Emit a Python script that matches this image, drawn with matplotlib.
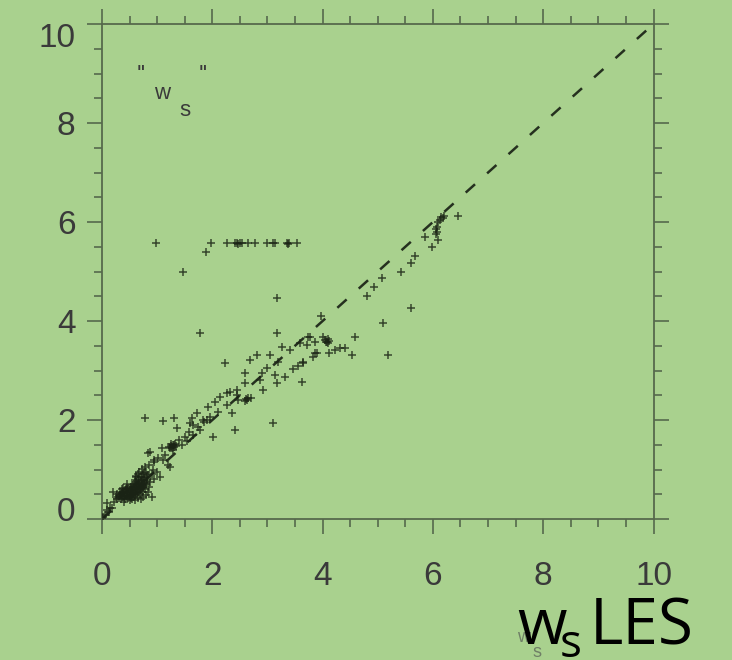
import numpy as np
import matplotlib
matplotlib.use("Agg")
import matplotlib.pyplot as plt
from matplotlib.transforms import ScaledTranslation

BG = "#a9d18e"
AXC = "#56694c"
TXT = "#3a3a3a"

# plateau of parameterised values near 5.6
plateau_les = [0.98, 1.47, 1.88, 1.97, 2.26, 2.42, 2.45, 2.47, 2.50, 2.54,
               2.64, 2.77, 2.99, 3.10, 3.13, 3.35, 3.38, 3.40, 3.53]
plateau_par = [5.58, 5.00, 5.40, 5.58, 5.58, 5.57, 5.58, 5.56, 5.58, 5.58,
               5.58, 5.58, 5.58, 5.57, 5.58, 5.58, 5.56, 5.58, 5.58]

# upper part of the cloud (ws > 3)
upper_les = [3.17, 1.78, 3.17, 3.98, 6.45, 6.18, 6.12, 6.10, 6.07, 6.06,
             6.07, 6.05, 5.85, 6.09, 5.98, 5.67, 5.60, 5.43, 5.07, 4.93,
             4.80, 5.60, 5.09, 5.18, 4.58, 4.53, 4.08, 4.00, 4.05, 4.10,
             4.12, 4.22, 4.31, 4.11, 3.71, 3.86, 3.77, 3.86, 3.82, 3.64,
             3.55, 3.46, 3.62, 4.40, 3.73, 3.59, 3.26, 3.41, 3.89, 3.04,
             2.81, 3.19, 2.68, 2.23, 3.64, 2.99, 2.59, 2.90, 3.13, 3.32,
             2.86, 3.17, 2.59, 3.10, 4.06, 4.09, 6.14, 6.20]
upper_par = [4.46, 3.76, 3.76, 4.11, 6.13, 6.09, 6.05, 6.00, 5.90, 5.85,
             5.79, 5.75, 5.69, 5.63, 5.49, 5.32, 5.18, 5.00, 4.86, 4.68,
             4.50, 4.27, 3.95, 3.31, 3.67, 3.31, 3.57, 3.67, 3.62, 3.55,
             3.60, 3.41, 3.45, 3.35, 3.51, 3.57, 3.67, 3.35, 3.27, 3.17,
             3.10, 3.04, 2.76, 3.45, 3.67, 3.55, 3.47, 3.41, 3.35, 3.31,
             3.31, 3.17, 3.21, 3.15, 3.15, 3.06, 2.96, 2.94, 2.90, 2.86,
             2.80, 2.74, 2.74, 1.94, 3.58, 3.64, 6.10, 6.12]

# middle part (ws between 1 and 3)
mid_les = [2.45, 2.92, 2.32, 2.63, 2.62, 2.65, 2.60, 2.70, 2.47, 2.14,
           2.05, 2.26, 1.92, 1.72, 1.96, 1.83, 1.63, 2.36, 2.41, 2.01,
           1.78, 1.65, 0.78, 1.11, 1.30, 1.36, 1.58, 1.59, 1.09, 0.87,
           1.27, 1.25, 1.30, 1.33, 1.35, 1.22, 1.28, 1.01, 1.23, 1.20,
           1.05, 0.83, 1.40, 1.50, 1.15, 0.95, 1.10, 2.10, 2.26, 2.45,
           1.45, 1.55, 1.65, 1.75, 1.85, 1.90, 1.29, 1.31, 1.26, 1.24]
mid_par = [2.60, 2.60, 2.56, 2.40, 2.42, 2.45, 2.38, 2.44, 2.40, 2.46,
           2.36, 2.30, 2.26, 2.14, 2.06, 2.00, 2.04, 2.14, 1.79, 1.65,
           1.79, 1.90, 2.04, 1.98, 2.04, 1.83, 1.75, 1.93, 1.43, 1.35,
           1.43, 1.47, 1.50, 1.52, 1.48, 1.45, 1.40, 1.23, 1.05, 1.10,
           0.85, 1.33, 1.60, 1.65, 1.30, 1.15, 1.20, 2.16, 2.54, 2.50,
           1.50, 1.58, 1.70, 1.85, 1.95, 2.00, 1.49, 1.46, 1.51, 1.44]

# dense cluster of small values
low_les = [0.02, 0.05, 0.09, 0.14, 0.18, 0.09, 0.20, 0.22, 0.25, 0.28,
           0.30, 0.32, 0.33, 0.35, 0.36, 0.38, 0.40, 0.41, 0.42, 0.43,
           0.45, 0.45, 0.47, 0.48, 0.50, 0.50, 0.52, 0.52, 0.54, 0.55,
           0.55, 0.57, 0.58, 0.58, 0.60, 0.60, 0.62, 0.62, 0.63, 0.64,
           0.65, 0.66, 0.67, 0.68, 0.69, 0.70, 0.70, 0.72, 0.72, 0.73,
           0.74, 0.75, 0.76, 0.77, 0.78, 0.80, 0.80, 0.82, 0.83, 0.84,
           0.85, 0.87, 0.90, 0.90, 0.92, 0.65, 0.75, 0.80, 0.70, 0.60,
           0.50, 0.40, 0.38, 0.55, 0.45, 0.62, 0.68, 0.78, 0.85, 0.95,
           1.00, 0.95, 0.72,
           0.34, 0.37, 0.39, 0.42, 0.44, 0.46, 0.49, 0.51, 0.53, 0.56,
           0.57, 0.59, 0.61, 0.63, 0.64, 0.66, 0.67, 0.69, 0.71, 0.73,
           0.74, 0.76, 0.77, 0.79, 0.81, 0.59, 0.62, 0.66, 0.70, 0.73,
           0.77, 0.48, 0.52, 0.56, 0.44, 0.40, 0.36, 0.31, 0.27, 0.12]
low_par = [0.04, 0.08, 0.18, 0.22, 0.22, 0.32, 0.54, 0.35, 0.45, 0.50,
           0.42, 0.55, 0.48, 0.40, 0.60, 0.45, 0.52, 0.58, 0.40, 0.47,
           0.55, 0.62, 0.42, 0.50, 0.58, 0.45, 0.52, 0.65, 0.40, 0.48,
           0.56, 0.60, 0.70, 0.45, 0.52, 0.64, 0.75, 0.48, 0.58, 0.68,
           0.55, 0.80, 0.62, 0.72, 0.50, 0.60, 0.85, 0.68, 0.78, 0.55,
           0.90, 0.65, 0.72, 0.82, 0.60, 0.70, 0.95, 0.78, 0.54, 0.88,
           0.65, 0.75, 0.44, 0.90, 1.00, 0.42, 0.45, 0.48, 0.40, 0.38,
           0.38, 0.35, 0.62, 0.68, 0.70, 0.85, 0.95, 1.05, 1.10, 0.80,
           0.95, 1.20, 1.02,
           0.50, 0.44, 0.55, 0.49, 0.60, 0.46, 0.54, 0.47, 0.60, 0.52,
           0.64, 0.55, 0.62, 0.70, 0.52, 0.66, 0.74, 0.58, 0.64, 0.70,
           0.62, 0.78, 0.68, 0.74, 0.84, 0.78, 0.86, 0.90, 0.76, 0.84,
           0.92, 0.60, 0.42, 0.50, 0.58, 0.46, 0.52, 0.46, 0.40, 0.14]

one_to_one = [0, 10]
ticks = [0, 2, 4, 6, 8, 10]

plt.rcParams["font.family"] = ["Liberation Sans", "DejaVu Sans"]

fig = plt.figure(figsize=(7.32, 6.6), dpi=100, facecolor=BG)
ax = fig.add_axes([0.1393, 0.2136, 0.7535, 0.75])
ax.set_facecolor(BG)

ax.plot(one_to_one, one_to_one, color="#25301f", lw=1.8,
        dashes=(5.0, 6.5), zorder=2)

les = plateau_les + upper_les + mid_les + low_les
par = plateau_par + upper_par + mid_par + low_par
ax.plot(les, par, "+", ms=6, mew=1.1, color="#1a2315", alpha=0.8, zorder=3)

ax.set_xlim(0, 10)
ax.set_ylim(0, 10)
ax.set_xticks(ticks)
ax.set_yticks(ticks)
ax.set_xticks(np.arange(0, 10.01, 0.5), minor=True)
ax.set_yticks(np.arange(0, 10.01, 0.5), minor=True)
for s in ax.spines.values():
    s.set_color(AXC)
    s.set_linewidth(1.3)
ax.tick_params(which="both", direction="out", top=True, right=True,
               color=AXC, width=1.2, labelcolor=TXT, labelsize=24)
ax.tick_params(which="major", length=11)
ax.tick_params(which="minor", length=6)
ax.tick_params(axis="x", which="major", pad=19)
ax.tick_params(axis="y", which="major", pad=8)

# keep end labels of the y axis inside the frame
ylabels = ax.get_yticklabels()
ylabels[0].set_transform(ylabels[0].get_transform() +
                         ScaledTranslation(0, 7 / 72, fig.dpi_scale_trans))
ylabels[-1].set_transform(ylabels[-1].get_transform() +
                          ScaledTranslation(0, -8 / 72, fig.dpi_scale_trans))

# panel label ''w_s''
ax.text(0.62, 8.82, "''", fontsize=17, color=TXT)
ax.text(0.95, 8.48, "w", fontsize=16, color=TXT)
ax.text(1.40, 8.14, "s", fontsize=16, color=TXT)
ax.text(1.76, 8.82, "''", fontsize=17, color=TXT)

# original small axis title, partly covered
fig.text(0.706, 0.027, "w", fontsize=13, color="#6f7f66", zorder=1)
fig.text(0.728, 0.004, "s", fontsize=13, color="#6f7f66", zorder=1)

# large axis title
big = ["Open Sans", "DejaVu Sans"]
fig.text(0.706, 0.024, "w", fontsize=46, color="black", family=big, zorder=5)
fig.text(0.765, 0.005, "s", fontsize=33, color="black", family=big,
         va="baseline", zorder=5)
fig.text(0.806, 0.024, "LES", fontsize=46, color="black", family=big, zorder=5)

fig.savefig("out.png", dpi=100, facecolor=BG)
